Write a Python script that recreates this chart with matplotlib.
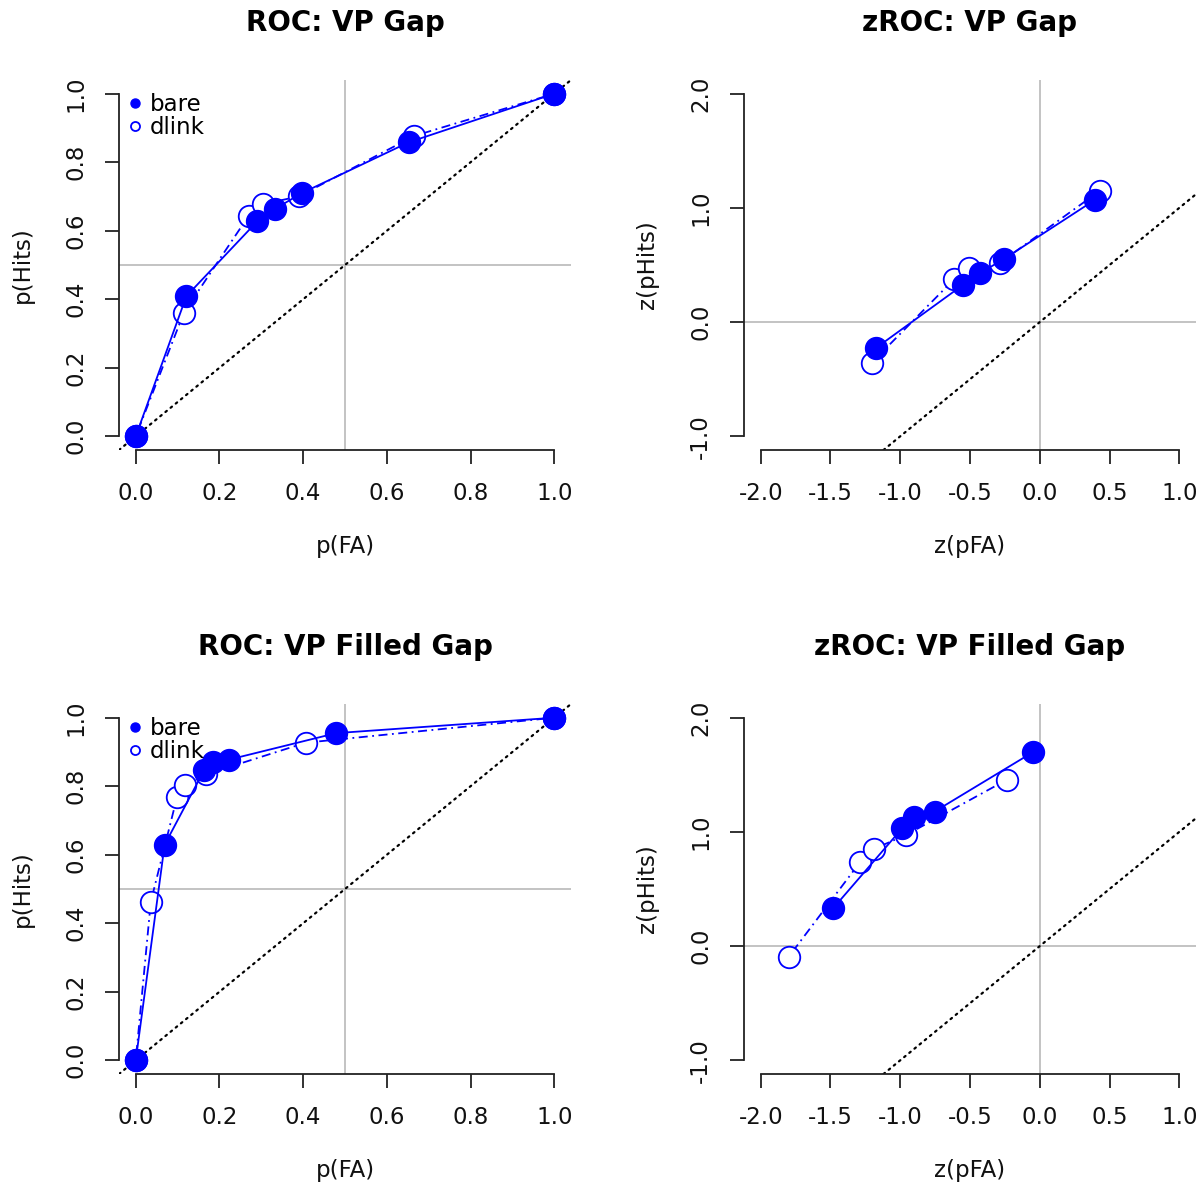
import matplotlib
matplotlib.use("Agg")
import matplotlib.pyplot as plt
from matplotlib.lines import Line2D

# --- data (bare = filled, dlink = open) ---
gap_fa_bare = [0, 0.121, 0.290, 0.333, 0.397, 0.652, 1]
gap_hit_bare = [0, 0.409, 0.627, 0.664, 0.710, 0.858, 1]
gap_fa_dlink = [0, 0.115, 0.270, 0.305, 0.389, 0.666, 1]
gap_hit_dlink = [0, 0.361, 0.644, 0.678, 0.700, 0.877, 1]

gap_zfa_bare = [-1.172, -0.551, -0.431, -0.256, 0.395]
gap_zhit_bare = [-0.225, 0.325, 0.427, 0.553, 1.070]
gap_zfa_dlink = [-1.206, -0.615, -0.507, -0.285, 0.433]
gap_zhit_dlink = [-0.357, 0.374, 0.471, 0.520, 1.152]

fill_fa_bare = [0, 0.069, 0.163, 0.185, 0.224, 0.479, 1]
fill_hit_bare = [0, 0.629, 0.846, 0.870, 0.878, 0.955, 1]
fill_fa_dlink = [0, 0.036, 0.099, 0.117, 0.169, 0.406, 1]
fill_hit_dlink = [0, 0.463, 0.770, 0.803, 0.835, 0.927, 1]

fill_zfa_bare = [-1.481, -0.986, -0.902, -0.754, -0.048]
fill_zhit_bare = [0.331, 1.032, 1.134, 1.178, 1.699]
fill_zfa_dlink = [-1.800, -1.285, -1.189, -0.957, -0.237]
fill_zhit_dlink = [-0.094, 0.740, 0.851, 0.974, 1.456]

roc_ticks = [0.0, 0.2, 0.4, 0.6, 0.8, 1.0]
zx_ticks = [-2.0, -1.5, -1.0, -0.5, 0.0, 0.5, 1.0]
zy_ticks = [-1.0, 0.0, 1.0, 2.0]

BLUE = "#0000FF"
GRAY = "#BEBEBE"
INK = "#222222"
FS = 16.5

plt.rcParams['font.family'] = ['DejaVu Sans']

fig = plt.figure(figsize=(12.02, 11.84), dpi=100)
W, H = 1202, 1184


def make_axes(x0, y_top):
    return fig.add_axes([x0 / W, 1 - (y_top + 370) / H, 452 / W, 370 / H])


def draw_panel(ax, title, xb, yb, xd, yd, xlim, ylim, xticks, yticks,
               ref, xlabel, ylabel, legend):
    pad_x = 0.04 * (xlim[1] - xlim[0])
    pad_y = 0.04 * (ylim[1] - ylim[0])
    ax.set_xlim(xlim[0] - pad_x, xlim[1] + pad_x)
    ax.set_ylim(ylim[0] - pad_y, ylim[1] + pad_y)

    ax.axhline(ref, color=GRAY, lw=1.3, zorder=1)
    ax.axvline(ref, color=GRAY, lw=1.3, zorder=1)
    ax.axline((0, 0), (1, 1), color='black', lw=1.6, ls=(0, (0.8, 2.2)),
              dash_capstyle='round', zorder=1)

    ax.plot(xd, yd, color=BLUE, lw=1.3, ls=(0, (1, 2.5, 5, 2.5)), zorder=2)
    ax.plot(xd, yd, ls='none', marker='o', ms=15.5, mfc='white', mec=BLUE,
            mew=1.3, zorder=3)
    ax.plot(xb, yb, color=BLUE, lw=1.3, zorder=4)
    ax.plot(xb, yb, ls='none', marker='o', ms=15.8, mfc=BLUE, mec=BLUE,
            mew=1.0, zorder=5)

    for s in ['top', 'right']:
        ax.spines[s].set_visible(False)
    for s in ['left', 'bottom']:
        ax.spines[s].set_linewidth(1.3)
        ax.spines[s].set_color(INK)
    ax.spines['left'].set_bounds(yticks[0], yticks[-1])
    ax.spines['bottom'].set_bounds(xticks[0], xticks[-1])

    ax.set_xticks(xticks)
    ax.set_yticks(yticks)
    ax.set_xticklabels([f"{t:.1f}" for t in xticks])
    ax.set_yticklabels([f"{t:.1f}" for t in yticks])
    ax.tick_params(axis='both', direction='out', length=10, width=1.3,
                   labelsize=FS, color=INK, labelcolor='#111111')
    ax.tick_params(axis='x', pad=13)
    ax.tick_params(axis='y', pad=13, labelrotation=90)
    for lab in ax.get_yticklabels():
        lab.set_va('center')

    ax.set_xlabel(xlabel, fontsize=FS, labelpad=21.5, color='#111111')
    ax.set_ylabel(ylabel, fontsize=FS, labelpad=21.5, color='#111111')
    ax.set_title(title, fontsize=20, fontweight='bold', pad=35)

    if legend:
        handles = [
            Line2D([], [], ls='none', marker='o', ms=6.5, mfc=BLUE, mec=BLUE),
            Line2D([], [], ls='none', marker='o', ms=6.5, mfc='none', mec=BLUE,
                   mew=1.3),
        ]
        ax.legend(handles, ['bare', 'dlink'], loc='upper left',
                  bbox_to_anchor=(0.0155, 0.971), frameon=False, fontsize=FS,
                  borderpad=0.1, labelspacing=0.02, handlelength=0.6,
                  handletextpad=0.35, borderaxespad=0)


ax1 = make_axes(119, 80)
draw_panel(ax1, "ROC: VP Gap", gap_fa_bare, gap_hit_bare, gap_fa_dlink,
           gap_hit_dlink, (0, 1), (0, 1), roc_ticks, roc_ticks, 0.5,
           "p(FA)", "p(Hits)", True)

ax2 = make_axes(744, 80)
draw_panel(ax2, "zROC: VP Gap", gap_zfa_bare, gap_zhit_bare, gap_zfa_dlink,
           gap_zhit_dlink, (-2, 1), (-1, 2), zx_ticks, zy_ticks, 0.0,
           "z(pFA)", "z(pHits)", False)

ax3 = make_axes(119, 704)
draw_panel(ax3, "ROC: VP Filled Gap", fill_fa_bare, fill_hit_bare,
           fill_fa_dlink, fill_hit_dlink, (0, 1), (0, 1), roc_ticks,
           roc_ticks, 0.5, "p(FA)", "p(Hits)", True)

ax4 = make_axes(744, 704)
draw_panel(ax4, "zROC: VP Filled Gap", fill_zfa_bare, fill_zhit_bare,
           fill_zfa_dlink, fill_zhit_dlink, (-2, 1), (-1, 2), zx_ticks,
           zy_ticks, 0.0, "z(pFA)", "z(pHits)", False)

fig.savefig("out.png", dpi=100, facecolor='white')
